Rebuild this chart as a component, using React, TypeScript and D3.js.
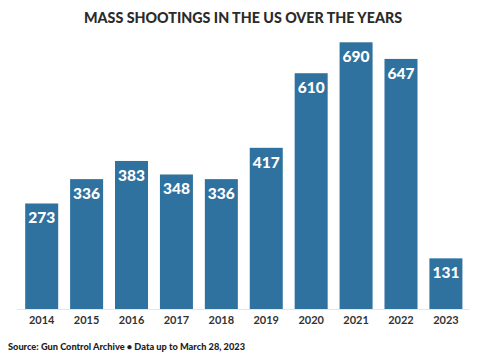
import React from "react";
import * as d3 from "d3";

const years = ["2014", "2015", "2016", "2017", "2018", "2019", "2020", "2021", "2022", "2023"];
const counts = [273, 336, 383, 348, 336, 417, 610, 690, 647, 131];
const title = "MASS SHOOTINGS IN THE US OVER THE YEARS";
const source = "Source: Gun Control Archive • Data up to March 28, 2023";

const W = 486;
const H = 360;
const baseY = 309;
const font = "Lato, 'Source Sans Pro', 'Open Sans', sans-serif";

export default function App() {
  const x = d3.scaleBand<string>().domain(years).range([19.8, 467.8]).paddingInner(0.265).paddingOuter(0.12);
  const y = d3.scaleLinear().domain([0, 690]).range([baseY, 42.3]);
  return (
    <svg width={W} height={H} style={{ position: "absolute", left: 0, top: 0, background: "#fff" }}>
      <text x={84} y={23} fontFamily={font} fontWeight={900} fontSize={15.5} fill="#2b2b2b" textLength={318} lengthAdjust="spacingAndGlyphs">
        {title}
      </text>
      <line x1={17} x2={469} y1={baseY + 0.5} y2={baseY + 0.5} stroke="#e6e6e6" strokeWidth={1} />
      {years.map((yr, i) => {
        const bx = x(yr)!;
        const by = y(counts[i]);
        return (
          <g key={yr}>
            <rect x={bx} y={by} width={x.bandwidth()} height={baseY - by} fill="#2f729f" />
            <text x={bx + x.bandwidth() / 2} y={by + 20} textAnchor="middle" fontFamily={font} fontWeight={900} fontSize={15.5} fill="#fff">
              {counts[i]}
            </text>
            <text x={bx + x.bandwidth() / 2} y={324} textAnchor="middle" fontFamily={font} fontWeight={700} fontSize={11} fill="#333">
              {yr}
            </text>
          </g>
        );
      })}
      <text x={8} y={349.5} fontFamily={font} fontWeight={900} fontSize={10} fill="#222" textLength={237} lengthAdjust="spacingAndGlyphs">
        {source}
      </text>
    </svg>
  );
}
